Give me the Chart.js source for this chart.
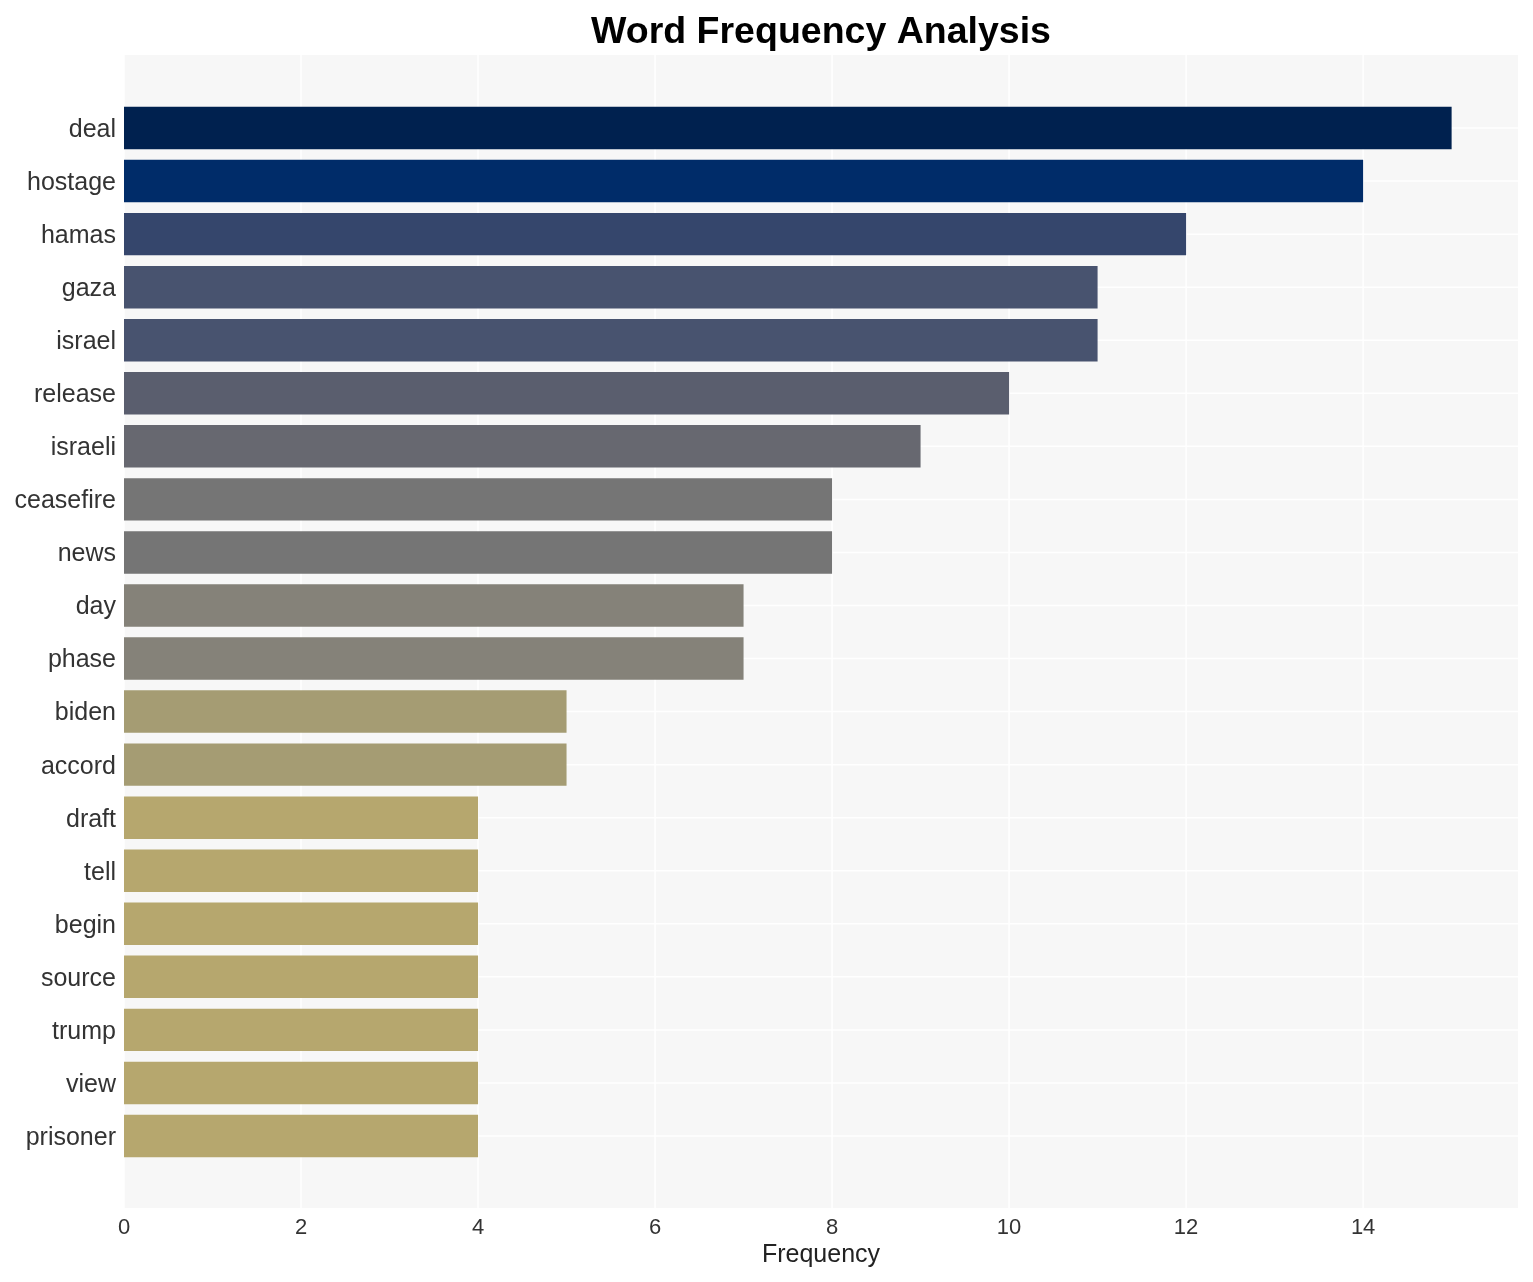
<!DOCTYPE html>
<html>
<head>
<meta charset="utf-8">
<script src="https://cdn.jsdelivr.net/npm/chart.js@4"></script>
<style>
html,body{margin:0;padding:0;background:#fff;}
#wrap{width:1533px;height:1282px;}
</style>
</head>
<body>
<div id="wrap"><canvas id="c" width="1533" height="1282"></canvas></div>
<script>
const words = ["deal","hostage","hamas","gaza","israel","release","israeli","ceasefire","news","day","phase","biden","accord","draft","tell","begin","source","trump","view","prisoner"];
const frequencies = [15,14,12,11,11,10,9,8,8,7,7,5,5,4,4,4,4,4,4,4];
const xTickValues = [0,2,4,6,8,10,12,14];
const barColors = ["#00214F","#002C69","#35466C","#48536F","#48536F","#5A5E6E","#676870","#757575","#757575","#858279","#858279","#A59C73","#A59C73","#B6A76E","#B6A76E","#B6A76E","#B6A76E","#B6A76E","#B6A76E","#B6A76E"];

const PANEL_TOP = 55, PANEL_BOTTOM = 1208;

const panelPlugin = {
  id: 'panel',
  beforeDatasetsDraw(chart) {
    const ctx = chart.ctx;
    const a = chart.chartArea;
    const xs = chart.scales.x, ys = chart.scales.y;
    ctx.save();
    ctx.fillStyle = '#F7F7F7';
    ctx.fillRect(a.left, PANEL_TOP, a.right - a.left, PANEL_BOTTOM - PANEL_TOP);
    ctx.strokeStyle = '#FFFFFF';
    ctx.lineWidth = 1.5;
    xTickValues.forEach(v => {
      const px = xs.getPixelForValue(v);
      ctx.beginPath(); ctx.moveTo(px, PANEL_TOP); ctx.lineTo(px, PANEL_BOTTOM); ctx.stroke();
    });
    words.forEach((w, i) => {
      const py = ys.getPixelForValue(i);
      ctx.beginPath(); ctx.moveTo(a.left, py); ctx.lineTo(a.right, py); ctx.stroke();
    });
    ctx.restore();
  }
};

new Chart(document.getElementById('c'), {
  type: 'bar',
  data: {
    labels: words,
    datasets: [{
      data: frequencies,
      backgroundColor: barColors,
      borderWidth: 0,
      barPercentage: 0.8,
      categoryPercentage: 1.0
    }]
  },
  plugins: [panelPlugin],
  options: {
    indexAxis: 'y',
    responsive: false,
    animation: false,
    devicePixelRatio: 1,
    layout: { padding: { left: 0, right: 15, top: 0, bottom: 0 } },
    plugins: {
      legend: { display: false },
      tooltip: { enabled: false },
      title: {
        display: true,
        fullSize: false,
        text: 'Word Frequency Analysis',
        color: '#000000',
        font: { family: '"Liberation Sans", Arial, sans-serif', size: 37.5, weight: 'bold' },
        padding: { top: 10, bottom: 46.5 }
      }
    },
    scales: {
      x: {
        type: 'linear',
        min: 0,
        max: 15.75,
        afterBuildTicks(scale) { scale.ticks = xTickValues.map(v => ({ value: v })); },
        afterFit(scale) { scale.height = 1282 - 1162.5; },
        grid: { display: false, drawTicks: false },
        border: { display: false },
        ticks: {
          color: '#333333',
          font: { family: '"Liberation Sans", Arial, sans-serif', size: 22 },
          padding: 52,
          maxRotation: 0
        },
        title: {
          display: true,
          text: 'Frequency',
          color: '#222222',
          font: { family: '"Liberation Sans", Arial, sans-serif', size: 25 },
          padding: { top: 0, bottom: 12 }
        }
      },
      y: {
        type: 'category',
        offset: true,
        afterFit(scale) { scale.width = 124; },
        grid: { display: false, drawTicks: false },
        border: { display: false },
        ticks: {
          color: '#333333',
          font: { family: '"Liberation Sans", Arial, sans-serif', size: 25 },
          padding: 8,
          labelOffset: 2,
          autoSkip: false
        }
      }
    }
  }
});
</script>
</body>
</html>
